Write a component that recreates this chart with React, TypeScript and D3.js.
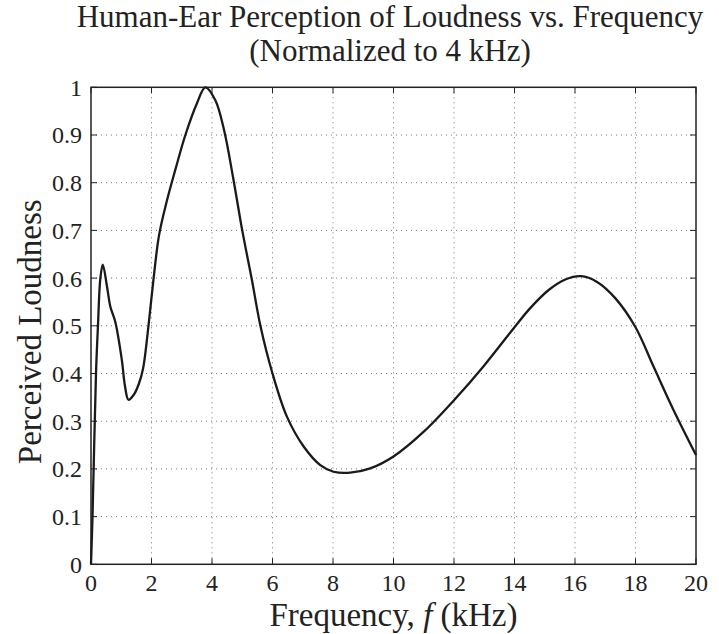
import React from "react";
import * as d3 from "d3";

const freqKHz = [0, 0.05, 0.165, 0.23, 0.31, 0.39, 0.53, 0.64, 0.8, 1.02, 1.12, 1.24, 1.42, 1.58, 1.72, 1.9, 2.07, 2.25, 2.5, 2.8, 3.12, 3.5, 3.78, 4.11, 4.4, 4.7, 5.0, 5.32, 5.6, 6.0, 6.48, 7.03, 7.58, 8.02, 8.57, 9.23, 10.0, 11.0, 12.0, 13.0, 14.0, 14.52, 15.13, 15.68, 16.2, 16.73, 17.33, 18.0, 18.6, 19.26, 20.0];
const loudness = [0, 0.1, 0.4, 0.5, 0.6, 0.628, 0.582, 0.54, 0.509, 0.428, 0.375, 0.345, 0.356, 0.378, 0.41, 0.5, 0.6, 0.69, 0.76, 0.83, 0.9, 0.966, 1.0, 0.973, 0.91, 0.81, 0.7, 0.596, 0.5, 0.4, 0.309, 0.247, 0.208, 0.194, 0.192, 0.201, 0.226, 0.278, 0.344, 0.417, 0.497, 0.537, 0.575, 0.597, 0.604, 0.592, 0.558, 0.497, 0.414, 0.323, 0.229];
const xTicks = [0, 2, 4, 6, 8, 10, 12, 14, 16, 18, 20];
const yTicks = [0, 0.1, 0.2, 0.3, 0.4, 0.5, 0.6, 0.7, 0.8, 0.9, 1];
const titleLines = ["Human-Ear Perception of Loudness vs. Frequency", "(Normalized to 4 kHz)"];

const W = 719, H = 634;
const L = 91, R = 696, T = 87.3, B = 564.3;
const FONT = "'Liberation Serif', 'Times New Roman', serif";

export default function App() {
  const x = d3.scaleLinear().domain([0, 20]).range([L, R]);
  const y = d3.scaleLinear().domain([0, 1]).range([B, T]);
  const pts = freqKHz.map((f, i) => [f, loudness[i]] as [number, number]);
  const line = d3.line<[number, number]>().x(d => x(d[0])).y(d => y(d[1])).curve(d3.curveCatmullRom.alpha(0.5));
  const tk = 6;
  const cx = (L + R) / 2;
  const cy = (T + B) / 2;
  const tcx = 390;
  return (
    <svg width={W} height={H} style={{ position: "absolute", left: 0, top: 0, background: "#fff" }} fontFamily={FONT}>
      <rect x={0} y={0} width={W} height={H} fill="#fff" />
      {xTicks.slice(1, -1).map(t => (
        <line key={"gx" + t} x1={x(t)} x2={x(t)} y1={T} y2={B} stroke="#777" strokeWidth={1} strokeDasharray="1 4" />
      ))}
      {yTicks.slice(1, -1).map(t => (
        <line key={"gy" + t} x1={L} x2={R} y1={y(t)} y2={y(t)} stroke="#777" strokeWidth={1} strokeDasharray="1 4" />
      ))}
      {xTicks.map(t => (
        <g key={"tx" + t}>
          <line x1={x(t)} x2={x(t)} y1={B} y2={B - tk} stroke="#222" strokeWidth={1} />
          <line x1={x(t)} x2={x(t)} y1={T} y2={T + tk} stroke="#222" strokeWidth={1} />
          <text x={x(t)} y={591} textAnchor="middle" fontSize={24} fill="#222">{t}</text>
        </g>
      ))}
      {yTicks.map(t => (
        <g key={"ty" + t}>
          <line x1={L} x2={L + tk} y1={y(t)} y2={y(t)} stroke="#222" strokeWidth={1} />
          <line x1={R} x2={R - tk} y1={y(t)} y2={y(t)} stroke="#222" strokeWidth={1} />
          <text x={L - 9} y={y(t)} dy="0.35em" textAnchor="end" fontSize={24} fill="#222">{t}</text>
        </g>
      ))}
      <rect x={L} y={T} width={R - L} height={B - T} fill="none" stroke="#222" strokeWidth={1.5} />
      <path d={line(pts) || ""} fill="none" stroke="#1a1a1a" strokeWidth={2.3} strokeLinejoin="round" />
      <text x={tcx} y={27} textAnchor="middle" fontSize={31} fill="#222">{titleLines[0]}</text>
      <text x={tcx} y={61} textAnchor="middle" fontSize={31} fill="#222">{titleLines[1]}</text>
      <text x={cx} y={626} textAnchor="middle" fontSize={33} fill="#222">
        Frequency, <tspan fontStyle="italic">f</tspan> (kHz)
      </text>
      <text transform={`translate(41,${cy + 6}) rotate(-90)`} textAnchor="middle" fontSize={33} fill="#222">Perceived Loudness</text>
    </svg>
  );
}
